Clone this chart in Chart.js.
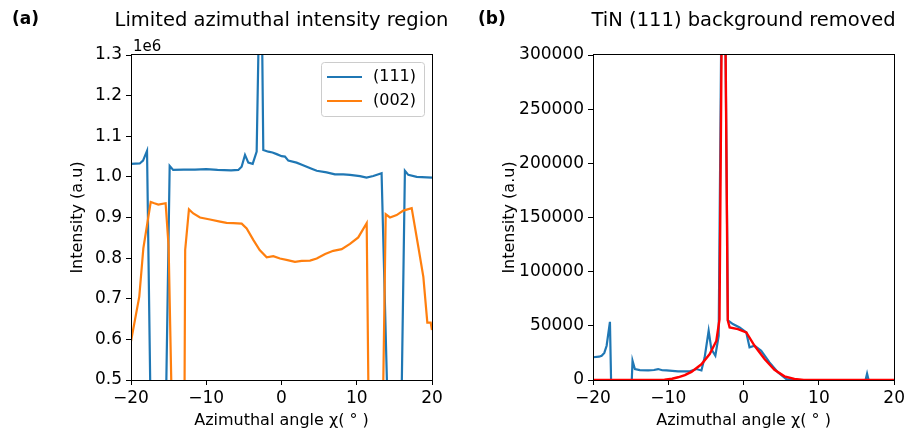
<!DOCTYPE html>
<html>
<head>
<meta charset="utf-8">
<script src="https://cdn.jsdelivr.net/npm/chart.js@4/dist/chart.umd.min.js"></script>
<style>
  body { margin: 0; background: #fff; }
  #wrap { position: relative; width: 908px; height: 436px; }
  canvas { position: absolute; top: 0; }
</style>
</head>
<body>
<div id="wrap">
  <canvas id="chartA" width="454" height="436" style="left:0"></canvas>
  <canvas id="chartB" width="454" height="436" style="left:454px"></canvas>
</div>
<script>
// panel (a): raw intensity, limited azimuthal region
const angles111 = [-20, -18.84, -18.4, -17.87, -17.08, -15.72, -14.86, -14.4, -13, -11.5, -10, -8.5, -6.7, -5.74, -5.3, -4.85, -4.41, -3.83, -3.3, -2.75, -2.42, -1.75, -1.2, -0.64, 0.02, 0.46, 0.9, 2.0, 2.7, 3.35, 4.0, 4.68, 6.0, 7.1, 8.2, 9.1, 10.43, 11.3, 12.2, 13.3, 14.7, 15.6, 16.4, 16.85, 17.97, 20];
const intensity111 = [1032000, 1033000, 1040000, 1064000, 0, 0, 1027000, 1017000, 1018000, 1018000, 1019000, 1017000, 1016000, 1017000, 1025000, 1054000, 1035000, 1032000, 1062000, 1650000, 1066000, 1062000, 1060000, 1056000, 1051000, 1050000, 1040000, 1035000, 1030000, 1025000, 1020000, 1015000, 1011000, 1006000, 1006000, 1005000, 1002000, 998000, 1002000, 1009000, 0, 0, 1015000, 1005000, 1000000, 998000];

const angles002 = [-20, -18.9, -18.36, -17.38, -16.9, -16.37, -15.4, -15.0, -14.12, -13.0, -12.8, -12.3, -11.72, -10.83, -9.5, -8.17, -7.3, -6.4, -5.29, -4.63, -3.75, -2.9, -1.97, -1.09, -0.2, 0.8, 1.79, 2.68, 3.79, 4.68, 5.8, 6.88, 8.0, 9.1, 10.2, 11.32, 11.82, 13.14, 13.85, 14.42, 15.3, 16.19, 17.3, 18.18, 18.85, 19.38, 19.83, 20];
const intensity002 = [595000, 705000, 824000, 938000, 935000, 932000, 935000, 828000, 0, 0, 820000, 920000, 910000, 900000, 895000, 890000, 887000, 886000, 885000, 873000, 845000, 820000, 802000, 805000, 799000, 795000, 791000, 793000, 794000, 799000, 810000, 818000, 822000, 835000, 851000, 886000, 0, 0, 908000, 900000, 906000, 917000, 923000, 828000, 754000, 641000, 641000, 623000];

// panel (b): TiN (111) with background removed, and the fit
const anglesTiN = [-20, -19.2, -18.85, -18.5, -18.19, -17.75, -17.6, -14.85, -14.75, -14.44, -13.77, -12.67, -11.9, -11.35, -10.8, -10.24, -8.7, -7.15, -6.27, -5.6, -5.17, -4.64, -4.28, -3.75, -3.31, -2.7, -2.08, -1.42, -0.53, 0.36, 0.79, 1.46, 2.34, 3.44, 4.54, 5.66, 6.5, 16.2, 16.4, 16.6, 20];
const intensityTiN = [21000, 21500, 22400, 25000, 31600, 53700, 0, 0, 17800, 10100, 9200, 8800, 9200, 10100, 9000, 8800, 8000, 8000, 10100, 8800, 20900, 45400, 28500, 22400, 40800, 540000, 55000, 51600, 48500, 43900, 30100, 31600, 27000, 16300, 7100, 900, 0, 0, 5800, 0, 0];

const anglesFit = [-20, -12, -10.5, -9.5, -8.7, -7.8, -6.93, -5.6, -4.5, -3.62, -3.2, -2.67, -2.1, -1.85, -0.75, 0.36, 1.46, 2.78, 4.1, 5.43, 6.75, 8, 9, 20];
const intensityFit = [0, 0, 300, 1200, 2500, 4500, 7500, 14500, 24000, 36000, 56000, 544000, 55000, 48500, 47000, 43900, 31600, 19300, 9500, 3400, 900, 100, 0, 0];

const xTicks = [-20, -10, 0, 10, 20];
const yTicksA = [500000, 600000, 700000, 800000, 900000, 1000000, 1100000, 1200000, 1300000];
const yTicksB = [0, 50000, 100000, 150000, 200000, 250000, 300000];

const FONT = 'DejaVu Sans';

function toPoints(xs, ys) {
    return xs.map((x, i) => ({ x: x, y: ys[i] }));
}

// box round the plot area, title over the plot centre, plus loose texts
const frame = {
    id: 'frame',
    afterDatasetsDraw(chart, args, opts) {
        const a = chart.chartArea;
        const ctx = chart.ctx;
        ctx.save();
        ctx.strokeStyle = '#000';
        ctx.lineWidth = 1;
        ctx.strokeRect(Math.round(a.left) + 0.5, Math.round(a.top) - 0.5, Math.round(a.right - a.left), Math.round(a.bottom - a.top) + 1);
        ctx.restore();
    },
    afterDraw(chart, args, opts) {
        const ctx = chart.ctx;
        const a = chart.chartArea;
        ctx.save();
        ctx.fillStyle = '#000';
        ctx.textBaseline = 'alphabetic';

        ctx.font = '19.5px "' + FONT + '"';
        ctx.textAlign = 'center';
        ctx.fillText(opts.title, (a.left + a.right) / 2, 26);
        ctx.textAlign = 'left';

        ctx.font = 'bold 17px "' + FONT + '"';
        ctx.fillText(opts.panel, opts.panelX, 24);
        if (opts.offset) {
            ctx.font = '15px "' + FONT + '"';
            ctx.fillText(opts.offset, a.left + 2, 51);
        }
        if (opts.legend) {
            const lg = opts.legend;
            ctx.fillStyle = 'rgba(255,255,255,0.8)';
            ctx.strokeStyle = '#cccccc';
            ctx.lineWidth = 1;
            ctx.beginPath();
            ctx.roundRect(lg.x + 0.5, lg.y + 0.5, lg.w, lg.h, 3);
            ctx.fill();
            ctx.stroke();
            ctx.font = '16px "' + FONT + '"';
            ctx.textBaseline = 'middle';
            lg.items.forEach((item, i) => {
                const y = lg.y + 15 + i * 24;
                ctx.strokeStyle = item.color;
                ctx.lineWidth = 2.2;
                ctx.beginPath();
                ctx.moveTo(lg.x + 6, y);
                ctx.lineTo(lg.x + 41, y);
                ctx.stroke();
                ctx.fillStyle = '#000';
                ctx.fillText(item.label, lg.x + 52, y);
            });
        }
        ctx.restore();
    }
};

function axes(yMin, yMax, yTicks, yFormat, yWidth) {
    const tickFont = { family: FONT, size: 17 };
    return {
        x: {
            type: 'linear',
            min: -20,
            max: 20,
            afterBuildTicks: s => { s.ticks = xTicks.map(v => ({ value: v })); },
            ticks: { font: tickFont, color: '#000', padding: 3, maxRotation: 0, callback: v => String(v).replace('-', '\u2212') },
            grid: { drawOnChartArea: false, drawTicks: true, tickLength: 5, color: '#000' },
            border: { display: false },
            title: {
                display: true,
                text: 'Azimuthal angle χ( ° )',
                font: { family: FONT, size: 16 },
                color: '#000',
                padding: { top: 0, bottom: 6 }
            },
            afterFit: s => { s.height = 56; }
        },
        y: {
            type: 'linear',
            min: yMin,
            max: yMax,
            afterBuildTicks: s => { s.ticks = yTicks.map(v => ({ value: v })); },
            ticks: { font: tickFont, color: '#000', padding: 4, callback: yFormat },
            grid: { drawOnChartArea: false, drawTicks: true, tickLength: 5, color: '#000' },
            border: { display: false },
            title: {
                display: true,
                text: 'Intensity (a.u)',
                font: { family: FONT, size: 16 },
                color: '#000',
                padding: { top: 8, bottom: 0 }
            },
            afterFit: s => { s.width = yWidth; }
        }
    };
}

new Chart(document.getElementById('chartA'), {
    type: 'line',
    data: {
        datasets: [{
            label: '(111)',
            data: toPoints(angles111, intensity111),
            borderColor: '#1f77b4',
            borderWidth: 2.2,
            pointRadius: 0,
            order: 1,
            clip: 0
        }, {
            label: '(002)',
            data: toPoints(angles002, intensity002),
            borderColor: '#ff7f0e',
            borderWidth: 2.2,
            pointRadius: 0,
            order: 0,
            clip: 0
        }]
    },
    options: {
        responsive: false,
        animation: false,
        events: [],
        layout: { padding: { left: 60, right: 22, top: 55, bottom: 0 } },
        plugins: {
            legend: { display: false },
            tooltip: { enabled: false },
            title: { display: false },
            frame: {
                title: 'Limited azimuthal intensity region',
                panel: '(a)',
                panelX: 12,
                offset: '1e6',
                legend: {
                    x: 321, y: 62, w: 103, h: 54,
                    items: [{ label: '(111)', color: '#1f77b4' }, { label: '(002)', color: '#ff7f0e' }]
                }
            }
        },
        scales: axes(500000, 1300000, yTicksA, v => (v / 1e6).toFixed(1), 71)
    },
    plugins: [frame]
});

new Chart(document.getElementById('chartB'), {
    type: 'line',
    data: {
        datasets: [{
            label: 'TiN (111)',
            data: toPoints(anglesTiN, intensityTiN),
            borderColor: '#1f77b4',
            borderWidth: 2.2,
            pointRadius: 0,
            order: 1,
            clip: 0
        }, {
            label: 'fit',
            data: toPoints(anglesFit, intensityFit),
            borderColor: '#ff0000',
            borderWidth: 2.4,
            pointRadius: 0,
            order: 0,
            clip: 0
        }]
    },
    options: {
        responsive: false,
        animation: false,
        events: [],
        layout: { padding: { left: 38, right: 13, top: 55, bottom: 0 } },
        plugins: {
            legend: { display: false },
            tooltip: { enabled: false },
            title: { display: false },
            frame: { title: 'TiN (111) background removed', panel: '(b)', panelX: 24 }
        },
        scales: axes(0, 300000, yTicksB, v => String(v), 101)
    },
    plugins: [frame]
});
</script>
</body>
</html>
